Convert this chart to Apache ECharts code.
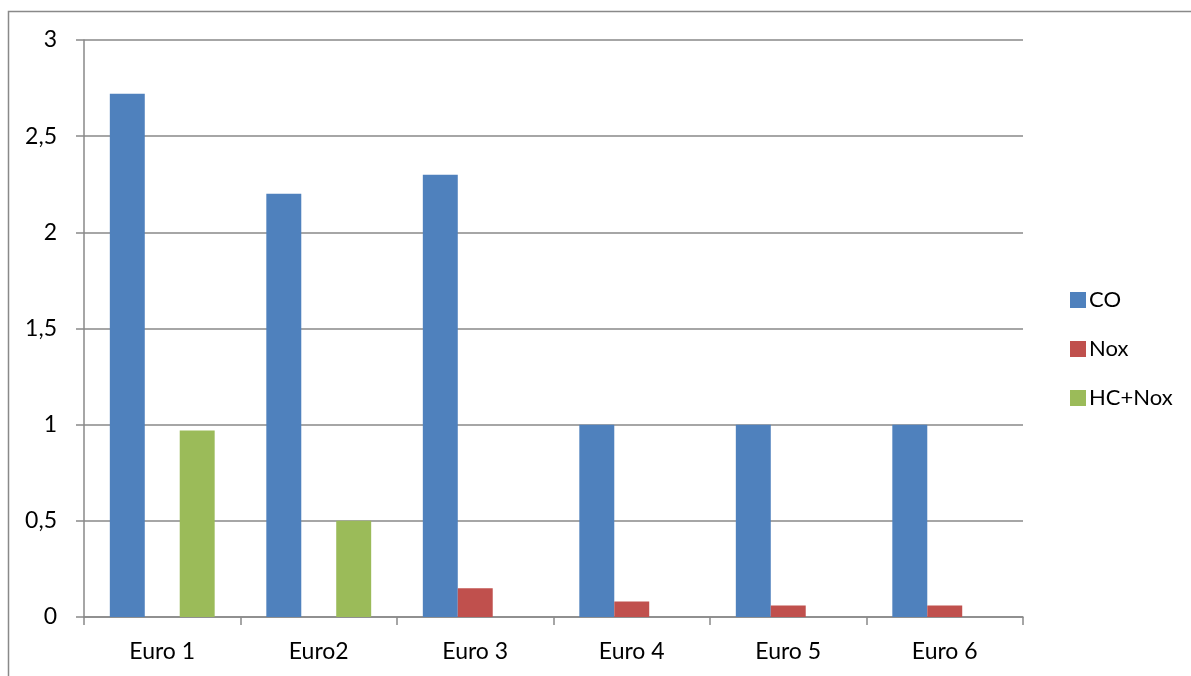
<!DOCTYPE html>
<html>
<head>
<meta charset="utf-8">
<script src="https://cdn.jsdelivr.net/npm/echarts@6/dist/echarts.min.js"></script>
<style>
	html, body { margin: 0; padding: 0; background: #fff; }
	#chart { width: 1191px; height: 676px; }
</style>
</head>
<body>
<div id="chart"></div>
<script>
	// categories and series
	var categories = ['Euro 1', 'Euro2', 'Euro 3', 'Euro 4', 'Euro 5', 'Euro 6'];
	var coValues = [2.72, 2.2, 2.3, 1, 1, 1];
	var noxValues = [null, null, 0.15, 0.08, 0.06, 0.06];
	var hcNoxValues = [0.97, 0.5, null, null, null, null];

	var myChart = echarts.init(document.getElementById('chart'));
	var font = 'Lato, "Open Sans", sans-serif';
	var gray = '#898989';

	var option = {
	  animation: false,
	  color: ['#4F81BD', '#C0504D', '#9BBB59'],
	  textStyle: { fontFamily: font },
	  graphic: [
	    {
	      type: 'polyline',
	      shape: { points: [[8.5, 700], [8.5, 11.5], [1200, 11.5]] },
	      style: { stroke: gray, lineWidth: 1.5, fill: null }
	    }
	  ],
	  legend: {
	    orient: 'vertical',
	    left: 1065,
	    top: 284,
	    itemWidth: 16,
	    itemHeight: 16,
	    itemGap: 27,
	    icon: 'rect',
	    textStyle: { fontSize: 22, color: '#000', fontFamily: font, padding: [0, 0, 0, -2] },
	    data: ['CO', 'Nox', 'HC+Nox']
	  },
	  grid: {
	    left: 84,
	    right: 168,
	    top: 40,
	    bottom: 59
	  },
	  xAxis: {
	    type: 'category',
	    data: categories,
	    axisLine: { lineStyle: { color: gray, width: 1.5 } },
	    axisTick: { show: true, length: 8, lineStyle: { color: gray, width: 1.5 } },
	    axisLabel: { fontSize: 23, color: '#000', margin: 23 }
	  },
	  yAxis: {
	    type: 'value',
	    min: 0,
	    max: 3,
	    interval: 0.5,
	    axisLine: { show: true, lineStyle: { color: gray, width: 1.5 } },
	    axisTick: { show: true, length: 8, lineStyle: { color: gray, width: 1.5 } },
	    splitLine: { lineStyle: { color: gray, width: 1.5 } },
	    axisLabel: {
	      fontSize: 23,
	      color: '#000',
	      margin: 27,
	      formatter: function (v) { return String(v).replace('.', ','); }
	    }
	  },
	  series: [
	    {
	      name: 'CO',
	      type: 'bar',
	      data: coValues,
	      barGap: '0%',
	      barCategoryGap: '33%'
	    },
	    {
	      name: 'Nox',
	      type: 'bar',
	      data: noxValues
	    },
	    {
	      name: 'HC+Nox',
	      type: 'bar',
	      data: hcNoxValues
	    }
	  ]
	};

	option && myChart.setOption(option);
</script>
</body>
</html>
